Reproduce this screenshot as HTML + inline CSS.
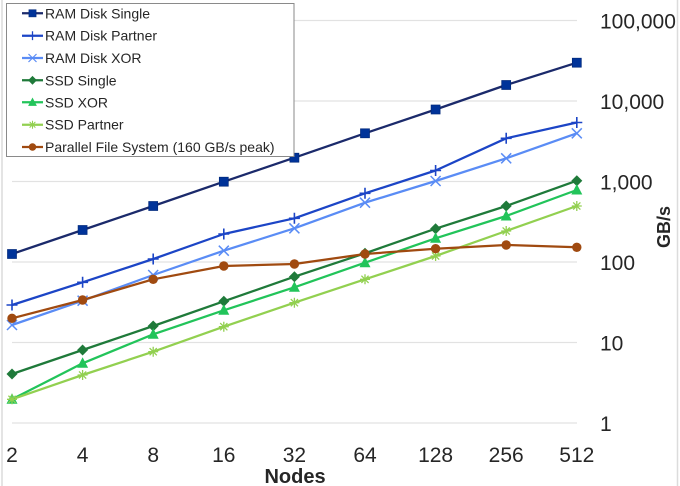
<!DOCTYPE html>
<html><head><meta charset="utf-8"><style>
html,body{margin:0;padding:0;background:#fff;}
svg{display:block;}
text{font-family:"Liberation Sans",sans-serif;fill:#262626;}
</style></head><body>
<svg width="680" height="486" viewBox="0 0 680 486" xmlns="http://www.w3.org/2000/svg">
<defs>
<rect id="sq" x="-4.5" y="-4.5" width="9" height="9" fill="#003399" stroke="#00287a" stroke-width="0.7"/>
<path id="pl" d="M-5.5 0H5.5M0 -5.5V5.5" stroke="#1c45c6" stroke-width="1.6" fill="none"/>
<path id="cr" d="M-5 -5L5 5M-5 5L5 -5" stroke="#5a8cf5" stroke-width="1.5" fill="none"/>
<polygon id="di" points="0,-5.5 5.5,0 0,5.5 -5.5,0" fill="#1f7a3a"/>
<polygon id="tr" points="0,-6 5.5,4.5 -5.5,4.5" fill="#22c45a"/>
<path id="as" d="M-5 0H5M0 -5V5M-3.6 -3.6L3.6 3.6M-3.6 3.6L3.6 -3.6" stroke="#92d050" stroke-width="1.3" fill="none"/>
<circle id="ci" r="4.7" cx="0" cy="0" fill="#a04a10"/>
</defs>
<rect x="0" y="0" width="680" height="486" fill="#fff"/>
<line x1="2" y1="0" x2="2" y2="486" stroke="#dcdcdc" stroke-width="1.5"/>
<line x1="677.5" y1="0" x2="677.5" y2="486" stroke="#dcdcdc" stroke-width="1.5"/>
<!-- gridlines -->
<g stroke="#e2e2e2" stroke-width="1.2">
<line x1="12" y1="20.5" x2="577" y2="20.5"/>
<line x1="12" y1="101" x2="577" y2="101"/>
<line x1="12" y1="181.5" x2="577" y2="181.5"/>
<line x1="12" y1="262" x2="577" y2="262"/>
<line x1="12" y1="342.5" x2="577" y2="342.5"/>
<line x1="12" y1="423" x2="577" y2="423"/>
</g>
<!-- y labels -->
<g font-size="21">
<text x="600" y="28.5">100,000</text>
<text x="600" y="109">10,000</text>
<text x="600" y="189.5">1,000</text>
<text x="600" y="270">100</text>
<text x="600" y="350.5">10</text>
<text x="600" y="431">1</text>
</g>
<text transform="translate(670,227) rotate(-90)" font-size="18" font-weight="bold" text-anchor="middle">GB/s</text>
<!-- x labels -->
<g font-size="21" text-anchor="middle">
<text x="12" y="462">2</text>
<text x="82.6" y="462">4</text>
<text x="153.2" y="462">8</text>
<text x="223.8" y="462">16</text>
<text x="294.4" y="462">32</text>
<text x="365" y="462">64</text>
<text x="435.6" y="462">128</text>
<text x="506.2" y="462">256</text>
<text x="576.8" y="462">512</text>
</g>
<text x="295" y="483" font-size="20" font-weight="bold" text-anchor="middle">Nodes</text>

<!-- series lines -->
<g fill="none" stroke-width="2.25" stroke-linejoin="round">
<polyline stroke="#1b2a6b" points="12,254 82.6,230 153.2,206 223.8,181.7 294.4,157.7 365,133.3 435.6,109.5 506.2,85 576.8,62.7"/>
<polyline stroke="#1c45c6" points="12,305 82.6,282.3 153.2,259 223.8,234 294.4,218.3 365,193.3 435.6,170.5 506.2,138.3 576.8,122.5"/>
<polyline stroke="#5a8cf5" points="12,325 82.6,300.7 153.2,275 223.8,250.7 294.4,228.3 365,202.7 435.6,181 506.2,158.3 576.8,133.3"/>
<polyline stroke="#1f7a3a" points="12,374 82.6,350 153.2,326 223.8,301.3 294.4,276.7 365,253.3 435.6,228.7 506.2,206 576.8,180.7"/>
<polyline stroke="#22c45a" points="12,399.3 82.6,363.3 153.2,334.3 223.8,310.3 294.4,287.3 365,262.7 435.6,238.3 506.2,216 576.8,190"/>
<polyline stroke="#92d050" points="12,399.3 82.6,375 153.2,351.7 223.8,326.7 294.4,302.7 365,279.3 435.6,256 506.2,231 576.8,206"/>
<polyline stroke="#a04a10" points="12,318.3 82.6,300 153.2,279.3 223.8,266 294.4,264 365,254 435.6,248.7 506.2,245 576.8,247.3"/>
</g>
<!-- markers -->
<use href="#sq" x="12" y="254"/><use href="#sq" x="82.6" y="230"/><use href="#sq" x="153.2" y="206"/><use href="#sq" x="223.8" y="181.7"/><use href="#sq" x="294.4" y="157.7"/><use href="#sq" x="365" y="133.3"/><use href="#sq" x="435.6" y="109.5"/><use href="#sq" x="506.2" y="85"/><use href="#sq" x="576.8" y="62.7"/>
<use href="#pl" x="12" y="305"/><use href="#pl" x="82.6" y="282.3"/><use href="#pl" x="153.2" y="259"/><use href="#pl" x="223.8" y="234"/><use href="#pl" x="294.4" y="218.3"/><use href="#pl" x="365" y="193.3"/><use href="#pl" x="435.6" y="170.5"/><use href="#pl" x="506.2" y="138.3"/><use href="#pl" x="576.8" y="122.5"/>
<use href="#cr" x="12" y="325"/><use href="#cr" x="82.6" y="300.7"/><use href="#cr" x="153.2" y="275"/><use href="#cr" x="223.8" y="250.7"/><use href="#cr" x="294.4" y="228.3"/><use href="#cr" x="365" y="202.7"/><use href="#cr" x="435.6" y="181"/><use href="#cr" x="506.2" y="158.3"/><use href="#cr" x="576.8" y="133.3"/>
<use href="#di" x="12" y="374"/><use href="#di" x="82.6" y="350"/><use href="#di" x="153.2" y="326"/><use href="#di" x="223.8" y="301.3"/><use href="#di" x="294.4" y="276.7"/><use href="#di" x="365" y="253.3"/><use href="#di" x="435.6" y="228.7"/><use href="#di" x="506.2" y="206"/><use href="#di" x="576.8" y="180.7"/>
<use href="#tr" x="12" y="399.3"/><use href="#tr" x="82.6" y="363.3"/><use href="#tr" x="153.2" y="334.3"/><use href="#tr" x="223.8" y="310.3"/><use href="#tr" x="294.4" y="287.3"/><use href="#tr" x="365" y="262.7"/><use href="#tr" x="435.6" y="238.3"/><use href="#tr" x="506.2" y="216"/><use href="#tr" x="576.8" y="190"/>
<use href="#as" x="12" y="399.3"/><use href="#as" x="82.6" y="375"/><use href="#as" x="153.2" y="351.7"/><use href="#as" x="223.8" y="326.7"/><use href="#as" x="294.4" y="302.7"/><use href="#as" x="365" y="279.3"/><use href="#as" x="435.6" y="256"/><use href="#as" x="506.2" y="231"/><use href="#as" x="576.8" y="206"/>
<use href="#ci" x="12" y="318.3"/><use href="#ci" x="82.6" y="300"/><use href="#ci" x="153.2" y="279.3"/><use href="#ci" x="223.8" y="266"/><use href="#ci" x="294.4" y="264"/><use href="#ci" x="365" y="254"/><use href="#ci" x="435.6" y="248.7"/><use href="#ci" x="506.2" y="245"/><use href="#ci" x="576.8" y="247.3"/>

<!-- legend -->
<rect x="6.5" y="3.5" width="287.5" height="153" fill="#fff" stroke="#8a8a8a" stroke-width="1"/>
<g stroke-width="2.25">
<line x1="22" y1="13.3" x2="43" y2="13.3" stroke="#1b2a6b"/>
<line x1="22" y1="35.7" x2="43" y2="35.7" stroke="#1c45c6"/>
<line x1="22" y1="58" x2="43" y2="58" stroke="#5a8cf5"/>
<line x1="22" y1="80.3" x2="43" y2="80.3" stroke="#1f7a3a"/>
<line x1="22" y1="102.3" x2="43" y2="102.3" stroke="#22c45a"/>
<line x1="22" y1="124.7" x2="43" y2="124.7" stroke="#92d050"/>
<line x1="22" y1="147" x2="43" y2="147" stroke="#a04a10"/>
</g>
<use href="#sq" transform="translate(32.5,13.3) scale(0.8)"/>
<use href="#pl" transform="translate(32.5,35.7) scale(0.8)"/>
<use href="#cr" transform="translate(32.5,58) scale(0.8)"/>
<use href="#di" transform="translate(32.5,80.3) scale(0.8)"/>
<use href="#tr" transform="translate(32.5,102.3) scale(0.8)"/>
<use href="#as" transform="translate(32.5,124.7) scale(0.8)"/>
<use href="#ci" transform="translate(32.5,147) scale(0.8)"/>
<g font-size="14">
<text x="45" y="18.3">RAM Disk Single</text>
<text x="45" y="40.7">RAM Disk Partner</text>
<text x="45" y="63">RAM Disk XOR</text>
<text x="45" y="85.3">SSD Single</text>
<text x="45" y="107.3">SSD XOR</text>
<text x="45" y="129.7">SSD Partner</text>
<text x="45" y="152">Parallel File System (160 GB/s peak)</text>
</g>
</svg>
</body></html>
